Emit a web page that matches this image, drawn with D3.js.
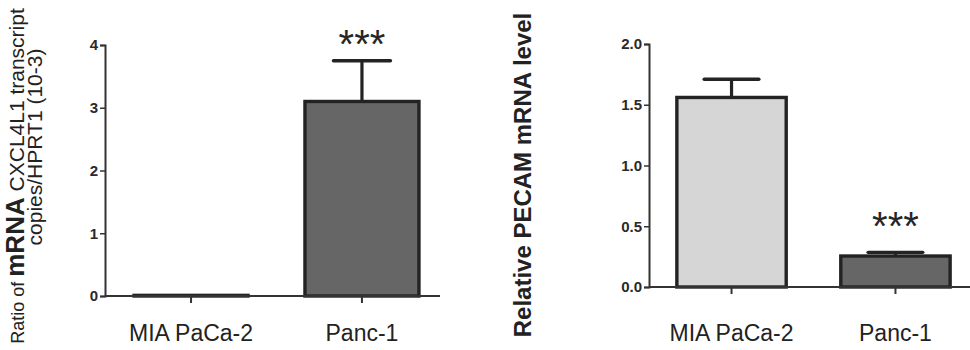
<!DOCTYPE html>
<html>
<head>
<meta charset="utf-8">
<script src="https://cdn.jsdelivr.net/npm/d3@7"></script>
<style>
  html, body { margin: 0; padding: 0; background: #fff; }
  svg { display: block; font-family: "Liberation Sans", Arial, sans-serif; }
</style>
</head>
<body>
<svg id="chart" width="970" height="350"></svg>
<script>
// ---- data ----
const categories = ["MIA PaCa-2", "Panc-1"];

const leftValues = [0.01, 3.1];
const leftErrors = [0.0, 0.65];
const leftTicks = [0, 1, 2, 3, 4];
const leftSig = ["", "***"];

const rightValues = [1.56, 0.255];
const rightErrors = [0.15, 0.03];
const rightTicks = [0.0, 0.5, 1.0, 1.5, 2.0];
const rightSig = ["", "***"];

const leftFills = ["#ffffff", "#666666"];
const rightFills = ["#d6d6d6", "#666666"];

const svg = d3.select("#chart");

function panel(opts) {
  const g = svg.append("g");
  const y = d3.scaleLinear().domain(opts.domain).range([opts.y0, opts.y1]);
  const x = d3.scaleBand().domain(categories).range([opts.xLeft, opts.xRight])
    .paddingInner(0.333).paddingOuter(0.17);

  // bars
  g.selectAll("rect.bar").data(categories).enter().append("rect")
    .attr("x", d => x(d))
    .attr("width", x.bandwidth())
    .attr("y", (d, i) => y(opts.values[i]))
    .attr("height", (d, i) => y(0) - y(opts.values[i]))
    .attr("fill", (d, i) => opts.fills[i])
    .attr("stroke", "#232323")
    .attr("stroke-width", 3.4);

  // error bars
  const capW = x.bandwidth() * 0.5;
  categories.forEach((c, i) => {
    if (opts.errors[i] <= 0) return;
    const cx = x(c) + x.bandwidth() / 2;
    const top = y(opts.values[i] + opts.errors[i]);
    g.append("line").attr("x1", cx).attr("x2", cx)
      .attr("y1", y(opts.values[i])).attr("y2", top)
      .attr("stroke", "#232323").attr("stroke-width", 3.2);
    g.append("line").attr("x1", cx - capW / 2).attr("x2", cx + capW / 2)
      .attr("y1", top).attr("y2", top)
      .attr("stroke", "#232323").attr("stroke-width", 3.4)
      .attr("stroke-linecap", "round");
  });

  // significance
  categories.forEach((c, i) => {
    if (!opts.sig[i]) return;
    const cx = x(c) + x.bandwidth() / 2;
    const top = y(opts.values[i] + opts.errors[i]);
    g.append("text").attr("x", cx).attr("y", top - opts.sigGap)
      .attr("text-anchor", "middle")
      .attr("font-size", 40).attr("fill", "#262626")
      .text(opts.sig[i]);
  });

  // y axis
  const yAxis = d3.axisLeft(y).tickValues(opts.ticks).tickSize(5).tickPadding(2)
    .tickFormat(opts.fmt);
  const ya = g.append("g").attr("transform", `translate(${opts.xLeft},0)`).call(yAxis);
  ya.select(".domain").attr("stroke", "#333").attr("stroke-width", 2);
  ya.selectAll(".tick line").attr("stroke", "#333").attr("stroke-width", 1.5);
  ya.selectAll(".tick text").attr("font-size", 15).attr("font-weight", "bold")
    .attr("fill", "#2a2a2a").attr("font-family", "Liberation Sans, Arial, sans-serif");

  // x axis
  const xAxis = d3.axisBottom(x).tickSize(7).tickFormat("").tickSizeOuter(0);
  const xa = g.append("g").attr("transform", `translate(0,${y(0)})`).call(xAxis);
  xa.select(".domain").attr("stroke", "#333").attr("stroke-width", 2)
    .attr("d", `M${opts.xLeft},0H${opts.axisEnd}`);
  xa.selectAll(".tick line").attr("stroke", "#333").attr("stroke-width", 2);

  // category labels
  g.selectAll("text.cat").data(categories).enter().append("text")
    .attr("class", "cat")
    .attr("x", d => x(d) + x.bandwidth() / 2)
    .attr("y", 341)
    .attr("text-anchor", "middle")
    .attr("font-size", 23).attr("fill", "#222")
    .text(d => d);
  return g;
}

panel({
  domain: [0, 4], y0: 296, y1: 45, xLeft: 105, xRight: 448, axisEnd: 440,
  values: leftValues, errors: leftErrors, fills: leftFills, sig: leftSig,
  ticks: leftTicks, fmt: d3.format("d"), sigGap: 3
});

panel({
  domain: [0, 2], y0: 287, y1: 44, xLeft: 649, xRight: 978, axisEnd: 970,
  values: rightValues, errors: rightErrors, fills: rightFills, sig: rightSig,
  ticks: rightTicks, fmt: d3.format(".1f"), sigGap: 12
});

// left y title (two lines)
const lt = svg.append("text")
  .attr("transform", "translate(24,176) rotate(-90)")
  .attr("text-anchor", "middle").attr("fill", "#222");
lt.append("tspan").attr("font-size", 18).text("Ratio of ");
lt.append("tspan").attr("font-size", 26).attr("font-weight", "bold").text("mRNA");
lt.append("tspan").attr("font-size", 21).text(" CXCL4L1 transcript");

svg.append("text")
  .attr("transform", "translate(42,147) rotate(-90)")
  .attr("text-anchor", "middle").attr("fill", "#222")
  .attr("font-size", 21)
  .text("copies/HPRT1 (10-3)");

// right y title
svg.append("text")
  .attr("transform", "translate(531,175) rotate(-90)")
  .attr("text-anchor", "middle").attr("fill", "#222")
  .attr("font-size", 24).attr("font-weight", "bold")
  .text("Relative PECAM mRNA level");
</script>
</body>
</html>
